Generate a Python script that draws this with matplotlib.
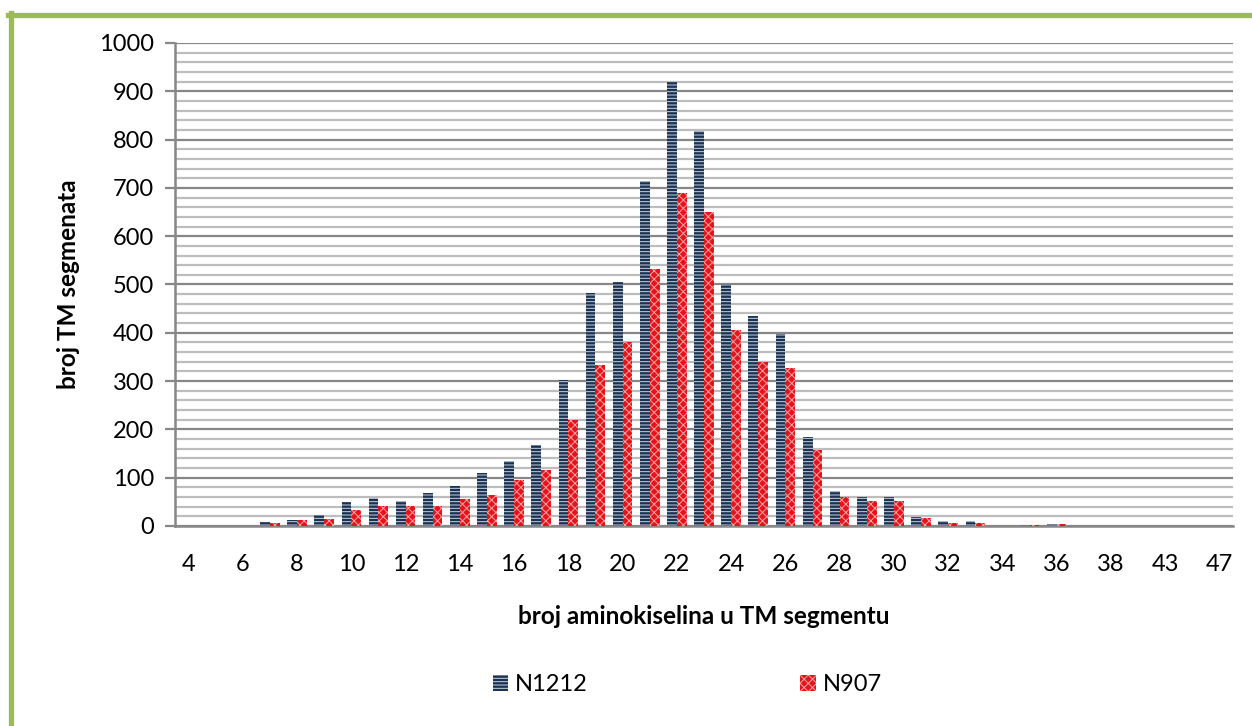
import numpy as np
import matplotlib
matplotlib.use("Agg")
import matplotlib.pyplot as plt
from matplotlib.lines import Line2D
from matplotlib.ticker import MultipleLocator

# broj aminokiselina u TM segmentu (kategorije na osi x)
duljine = [4, 5, 6, 7, 8, 9, 10, 11, 12, 13, 14, 15, 16, 17, 18, 19, 20, 21, 22,
           23, 24, 25, 26, 27, 28, 29, 30, 31, 32, 33, 34, 35, 36, 37, 38, 40, 43, 45, 47]
# vidljive oznake (svaka druga kategorija)
oznake = [str(d) if i % 2 == 0 else '' for i, d in enumerate(duljine)]

n1212 = [0, 0, 0, 8, 12, 22, 50, 58, 52, 68, 83, 110, 135, 168, 302, 483, 505, 714, 920,
         818, 502, 435, 397, 185, 73, 61, 59, 18, 10, 10, 0, 2, 5, 0, 1, 0, 1, 0, 1]
n907 = [0, 0, 0, 7, 13, 15, 33, 41, 41, 42, 56, 64, 95, 116, 220, 333, 380, 532, 689,
        651, 405, 340, 328, 157, 59, 52, 52, 16, 6, 6, 0, 2, 4, 0, 0, 0, 0, 0, 0]

plt.rcParams['font.family'] = ['Lato', 'DejaVu Sans']
plt.rcParams['hatch.linewidth'] = 0.7

fig = plt.figure(figsize=(12.52, 7.26), dpi=100)
ax = fig.add_axes([0.1398, 0.2755, 0.845, 0.6653])

x = np.arange(len(duljine))
w = 0.36
ax.bar(x - w / 2, n1212, width=w, color='#1b3253', edgecolor='#c9d3df',
       linewidth=0, hatch='-----', label='N1212', zorder=3)
ax.bar(x + w / 2, n907, width=w, color='#e5141b', edgecolor='#f6a5a8',
       linewidth=0, hatch='xxxx', label='N907', zorder=3)

ax.set_xlim(-0.5, len(duljine) - 0.5)
ax.set_ylim(0, 1000)
ax.yaxis.set_major_locator(MultipleLocator(100))
ax.yaxis.set_minor_locator(MultipleLocator(20))
ax.grid(which='major', axis='y', color='#878787', linewidth=1.6, zorder=0)
ax.grid(which='minor', axis='y', color='#bdbdbd', linewidth=1.6, zorder=0)
ax.set_axisbelow(True)

ax.set_xticks(x)
ax.set_xticklabels(oznake, fontsize=17)
ax.tick_params(axis='x', length=0, pad=20)
ax.tick_params(axis='y', which='major', labelsize=17, length=7, width=1.6,
               color='#878787', pad=8)
ax.tick_params(axis='y', which='minor', length=0)

for s in ['top', 'right']:
    ax.spines[s].set_visible(False)
for s in ['left', 'bottom']:
    ax.spines[s].set_color('#878787')
    ax.spines[s].set_linewidth(1.8)

ax.set_xlabel('broj aminokiselina u TM segmentu', fontsize=17.5, fontweight='bold', labelpad=22)
ax.set_ylabel('broj TM segmenata', fontsize=17.5, fontweight='bold', labelpad=14)

fig.legend(loc='center', bbox_to_anchor=(0.549, 0.057), ncol=2, frameon=False,
           fontsize=17, handlelength=0.65, handleheight=0.65, handletextpad=0.3,
           columnspacing=9.0)

# zeleni okvir
fig.add_artist(Line2D([0.0085, 0.0085], [0.0, 0.982], color='#9bbb59', linewidth=3.8,
                      transform=fig.transFigure))
fig.add_artist(Line2D([0.006, 1.0], [0.980, 0.980], color='#9bbb59', linewidth=3.8,
                      transform=fig.transFigure))

fig.savefig('out.png', dpi=100)
